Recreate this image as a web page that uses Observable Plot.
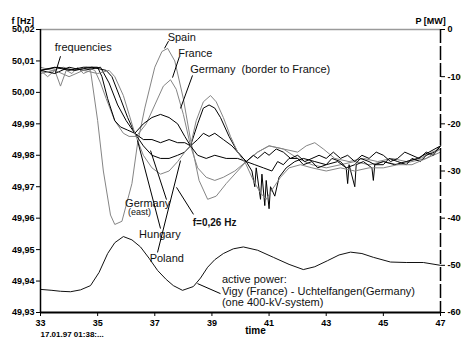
<!DOCTYPE html>
<html><head><meta charset="utf-8">
<script src="https://cdn.jsdelivr.net/npm/d3@7"></script>
<script src="https://cdn.jsdelivr.net/npm/@observablehq/plot@0.6"></script>
<style>body{margin:0;background:#fff;} svg{display:block} svg [aria-label$="tick label"] text{font-weight:bold}</style>
</head><body><div id="chart"></div>
<script>
// frequency series: [time (s), frequency (Hz)]
const spain = [[33,50.007],[33.25,50.005],[33.5,50.007],[33.7,50.002],[33.9,50.007],[34.1,50.006],[34.3,50.008],[34.5,50.006],[34.75,50.007],[35.0,49.991],[35.2,49.975],[35.45,49.961],[35.6,49.958],[35.85,49.959],[36.2,49.971],[36.4,49.984],[36.65,49.995],[37.0,50.008],[37.25,50.013],[37.45,50.014],[37.7,50.010],[38.0,49.998],[38.25,49.985],[38.55,49.972],[38.85,49.966],[39.15,49.967],[39.5,49.971],[39.9,49.975],[40.2,49.978],[40.6,49.981],[41.0,49.983],[41.5,49.982],[42.0,49.979],[42.5,49.977],[43.0,49.976],[43.5,49.977],[44.0,49.978],[44.5,49.977],[45.0,49.978],[45.5,49.977],[46.0,49.978],[46.5,49.979],[47.0,49.981]];
const france = [[33,50.008],[33.4,50.007],[33.8,50.008],[34.2,50.007],[34.6,50.008],[34.9,50.007],[35.1,50.003],[35.3,49.998],[35.6,49.991],[35.9,49.987],[36.1,49.986],[36.35,49.986],[36.7,49.990],[37.0,49.996],[37.3,50.002],[37.55,50.004],[37.75,50.001],[38.0,49.993],[38.25,49.983],[38.5,49.976],[38.8,49.973],[39.1,49.972],[39.4,49.973],[39.8,49.975],[40.2,49.978],[40.6,49.981],[41.0,49.983],[41.5,49.982],[42.0,49.981],[42.3,49.983],[42.6,49.984],[42.9,49.982],[43.3,49.979],[43.8,49.978],[44.3,49.979],[44.8,49.978],[45.3,49.979],[45.8,49.978],[46.3,49.979],[46.7,49.981],[47,49.982]];
const germanyBorder = [[33,50.007],[33.5,50.008],[34.0,50.007],[34.5,50.008],[35.0,50.008],[35.15,50.005],[35.35,49.998],[35.6,49.991],[35.8,49.989],[36.05,49.988],[36.3,49.987],[36.6,49.990],[36.9,49.992],[37.2,49.993],[37.5,49.992],[37.8,49.990],[38.05,49.986],[38.25,49.983],[38.5,49.980],[38.8,49.979],[39.1,49.980],[39.5,49.979],[39.9,49.979],[40.2,49.978],[40.45,49.980],[40.6,49.979],[40.85,49.981],[41.0,49.980],[41.25,49.982],[41.5,49.981],[41.75,49.979],[42.0,49.980],[42.25,49.978],[42.5,49.979],[42.75,49.980],[43.0,49.979],[43.25,49.981],[43.5,49.979],[43.75,49.980],[44.0,49.978],[44.25,49.980],[44.5,49.979],[44.75,49.981],[45.0,49.980],[45.25,49.978],[45.5,49.979],[45.75,49.981],[46.0,49.980],[46.25,49.979],[46.5,49.981],[46.75,49.980],[47,49.983]];
const germanyEast = [[33,50.007],[33.5,50.006],[34.0,50.008],[34.5,50.007],[35.1,50.008],[35.4,50.003],[35.7,49.996],[36.0,49.991],[36.3,49.987],[36.6,49.985],[36.9,49.985],[37.2,49.984],[37.5,49.985],[37.8,49.984],[38.05,49.984],[38.25,49.983],[38.5,49.985],[38.7,49.987],[38.9,49.986],[39.1,49.987],[39.4,49.985],[39.7,49.983],[40.0,49.980],[40.2,49.978],[40.5,49.977],[40.8,49.976],[41.1,49.975],[41.3,49.978],[41.5,49.977],[41.7,49.979],[42.0,49.979],[42.2,49.977],[42.5,49.978],[42.7,49.976],[43.0,49.977],[43.2,49.979],[43.5,49.978],[43.7,49.976],[44.0,49.977],[44.2,49.979],[44.5,49.978],[44.7,49.977],[45.0,49.977],[45.2,49.979],[45.5,49.978],[45.8,49.977],[46.0,49.979],[46.3,49.978],[46.5,49.980],[46.8,49.981],[47,49.983]];
const hungary = [[33,50.007],[33.6,50.008],[34.2,50.007],[34.8,50.008],[35.3,50.007],[35.5,50.005],[35.8,49.998],[36.05,49.992],[36.3,49.987],[36.6,49.983],[36.9,49.980],[37.2,49.979],[37.5,49.979],[37.8,49.980],[38.05,49.981],[38.25,49.983],[38.5,49.990],[38.7,49.995],[38.9,49.996],[39.1,49.995],[39.3,49.992],[39.6,49.986],[39.9,49.981],[40.2,49.978],[40.4,49.975],[40.5,49.970],[40.55,49.976],[40.7,49.966],[40.75,49.974],[40.85,49.964],[40.9,49.972],[41.0,49.963],[41.05,49.970],[41.2,49.967],[41.35,49.973],[41.6,49.976],[41.9,49.978],[42.2,49.979],[42.6,49.978],[43.0,49.977],[43.4,49.978],[43.7,49.976],[43.75,49.971],[43.8,49.977],[44.0,49.970],[44.05,49.977],[44.3,49.978],[44.6,49.976],[44.65,49.972],[44.7,49.977],[45.0,49.978],[45.4,49.977],[45.8,49.978],[46.2,49.979],[46.6,49.981],[47,49.983]];
const poland = [[33,50.006],[33.5,50.007],[34.0,50.005],[34.5,50.007],[35.0,50.006],[35.4,50.007],[35.6,50.005],[35.9,49.999],[36.1,49.993],[36.3,49.987],[36.6,49.980],[36.9,49.976],[37.2,49.974],[37.5,49.975],[37.8,49.978],[38.05,49.981],[38.25,49.983],[38.45,49.991],[38.7,49.997],[38.95,49.999],[39.15,49.997],[39.4,49.992],[39.65,49.986],[39.9,49.981],[40.2,49.977],[40.45,49.972],[40.7,49.968],[40.9,49.966],[41.1,49.969],[41.4,49.973],[41.7,49.976],[42.1,49.977],[42.5,49.976],[43.0,49.975],[43.5,49.976],[44.0,49.975],[44.5,49.976],[45.0,49.976],[45.5,49.977],[46.0,49.977],[46.5,49.979],[47,49.982]];
// active power Vigy - Uchtelfangen: [time (s), P (MW)]
const power = [[33.0,-551],[33.4,-553],[33.7,-555],[34.05,-556],[34.4,-552],[34.75,-543],[35.05,-515],[35.35,-475],[35.6,-452],[35.9,-439],[36.2,-446],[36.5,-461],[36.8,-485],[37.1,-511],[37.4,-530],[37.65,-543],[37.97,-553],[38.35,-545],[38.6,-527],[38.85,-504],[39.1,-488],[39.4,-475],[39.75,-465],[40.1,-461],[40.6,-468],[41.15,-483],[41.7,-498],[42.2,-509],[42.6,-503],[43.05,-490],[43.45,-478],[43.85,-472],[44.25,-475],[44.65,-483],[45.25,-493],[45.8,-494],[46.4,-494],[47.0,-500]];

const leftTicks = [50.02, 50.01, 50.00, 49.99, 49.98, 49.97, 49.96, 49.95, 49.94, 49.93];
const rightTicksMW = [0, -100, -200, -300, -400, -500, -600];
const xTicks = [33, 35, 37, 39, 41, 43, 45, 47];

const fMin = 49.93, fMax = 50.02, pMin = -600, pMax = 0;
const pToF = p => fMin + (p - pMin) / (pMax - pMin) * (fMax - fMin);
const fToP = f => Math.round(pMin + (f - fMin) / (fMax - fMin) * (pMax - pMin));

const series = [
  {data: spain, color: "#858585"},
  {data: france, color: "#858585"},
  {data: germanyBorder, color: "#000"},
  {data: germanyEast, color: "#000"},
  {data: hungary, color: "#000"},
  {data: poland, color: "#858585"}
];

const FONT = "'Liberation Sans', Arial, sans-serif";
const label = (txt, x, y, o = {}) => Plot.text([txt], {x, y, text: d => d, textAnchor: "start", fontSize: 11, fill: "#111", ...o});
const leader = (x1, y1, x2, y2) => Plot.link([0], {x1, y1, x2, y2, stroke: "#000", strokeWidth: 1});

const chart = Plot.plot({
  width: 461, height: 340,
  marginLeft: 40, marginRight: 21, marginTop: 29, marginBottom: 28,
  style: {fontFamily: FONT, fontSize: "9px", background: "#fff", color: "#000"},
  x: {domain: [33, 47]},
  y: {domain: [fMin, fMax]},
  marks: [
    Plot.ruleY([fMax], {stroke: "#9a9a9a", strokeWidth: 1.5}),
    ...series.map(s => Plot.line(s.data, {x: d => d[0], y: d => d[1], stroke: s.color, strokeWidth: 1})),
    Plot.line(power, {x: d => d[0], y: d => pToF(d[1]), stroke: "#111", strokeWidth: 1}),
    Plot.ruleX([33], {stroke: "#000", strokeWidth: 1.5}),
    Plot.ruleX([47], {stroke: "#000", strokeWidth: 1.5, strokeDasharray: "14,3"}),
    Plot.ruleY([fMin], {stroke: "#000", strokeWidth: 2}),
    Plot.axisY({ticks: leftTicks, anchor: "left", tickSize: 4, tickPadding: 2, tickFormat: d => d.toFixed(2).replace(".", ","), fontWeight: "bold", label: null}),
    Plot.axisY({ticks: rightTicksMW.map(pToF), anchor: "right", tickSize: 4, tickPadding: 3, tickFormat: d => String(fToP(d)), fontWeight: "bold", label: null}),
    Plot.axisX({ticks: xTicks, tickSize: 4, tickPadding: 3, fontWeight: "bold", label: null}),
    // axis titles
    Plot.text(["f [Hz]"], {frameAnchor: "top-left", dx: -29, dy: -12, textAnchor: "start", fontWeight: "bold", fontSize: 9}),
    Plot.text(["P [MW]"], {frameAnchor: "top-right", dx: -25, dy: -12, textAnchor: "start", fontWeight: "bold", fontSize: 9}),
    Plot.text(["time"], {frameAnchor: "bottom", dx: 15, dy: 21, fontWeight: "bold", fontSize: 10}),
    Plot.text(["17.01.97 01:38:..."], {frameAnchor: "bottom-left", dy: 24, textAnchor: "start", fontWeight: "bold", fontSize: 8}),
    // annotations
    label("frequencies", 33.5, 50.0143),
    leader(33.7, 50.0115, 33.525, 50.0063),
    label("Spain", 37.45, 50.0175),
    leader(37.48, 50.0163, 37.34, 50.014),
    label("France", 37.82, 50.0124),
    leader(37.86, 50.0113, 37.62, 50.0047),
    label("Germany  (border to France)", 38.24, 50.0073),
    leader(38.32, 50.0054, 37.9, 49.9949),
    label("Germany", 35.96, 49.9647),
    label("(east)", 36.06, 49.9618, {fontSize: 9}),
    leader(37.41, 49.9659, 36.85, 49.9815),
    label("Hungary", 36.45, 49.9548),
    leader(37.2, 49.9567, 36.395, 49.9847),
    label("Poland", 36.82, 49.9472),
    leader(37.095, 49.9491, 37.9, 49.9783),
    label("f=0,26 Hz", 38.33, 49.9586, {fontWeight: "bold", fontSize: 10}),
    leader(38.355, 49.9612, 37.76, 49.9698),
    label("active power:", 39.35, 49.9405),
    label("Vigy (France) - Uchtelfangen(Germany)", 39.35, 49.9367),
    label("(one 400-kV-system)", 39.35, 49.9332),
    leader(39.3, 49.9360, 38.495, 49.9392)
  ]
});
document.getElementById("chart").append(chart);
</script>
</body></html>
